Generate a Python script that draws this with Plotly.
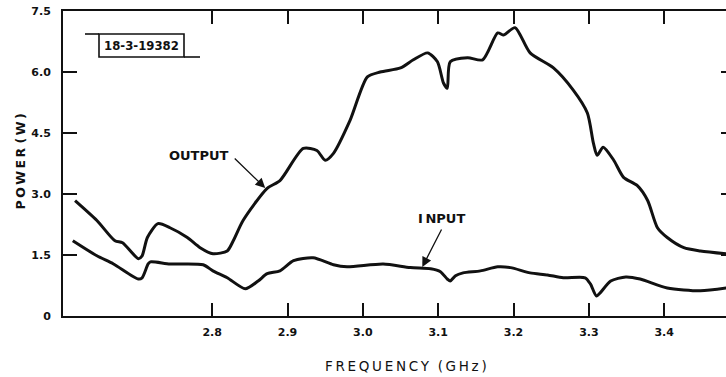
import plotly.graph_objects as go

# ---- data ----
freq_out = [2.618, 2.647, 2.671, 2.681, 2.702, 2.707, 2.714, 2.728, 2.744, 2.767, 2.784,
            2.801, 2.820, 2.828, 2.841, 2.873, 2.890, 2.921, 2.939, 2.950, 2.961, 2.983,
            3.006, 3.023, 3.050, 3.067, 3.086, 3.099, 3.107, 3.112, 3.116, 3.139, 3.159,
            3.179, 3.187, 3.202, 3.222, 3.253, 3.279, 3.298, 3.306, 3.311, 3.319, 3.333,
            3.346, 3.364, 3.378, 3.391, 3.404, 3.426, 3.448, 3.483]
power_out = [2.84, 2.35, 1.85, 1.80, 1.41, 1.48, 1.93, 2.27, 2.17, 1.93, 1.68,
             1.53, 1.60, 1.85, 2.35, 3.14, 3.33, 4.12, 4.07, 3.83, 4.00, 4.81,
             5.88, 6.00, 6.10, 6.30, 6.47, 6.25, 5.73, 5.60, 6.25, 6.35, 6.30,
             6.96, 6.91, 7.09, 6.47, 6.10, 5.56, 4.99, 4.25, 3.95, 4.15, 3.83,
             3.41, 3.21, 2.84, 2.17, 1.93, 1.68, 1.60, 1.53]

freq_in = [2.615, 2.647, 2.669, 2.702, 2.707, 2.715, 2.718, 2.744, 2.788, 2.801, 2.820,
           2.844, 2.861, 2.873, 2.890, 2.908, 2.934, 2.961, 2.979, 3.027, 3.063, 3.090,
           3.103, 3.112, 3.116, 3.123, 3.133, 3.156, 3.179, 3.196, 3.222, 3.245, 3.266,
           3.295, 3.302, 3.310, 3.315, 3.329, 3.349, 3.368, 3.404, 3.448, 3.483]
power_in = [1.85, 1.48, 1.28, 0.91, 0.94, 1.28, 1.33, 1.28, 1.26, 1.11, 0.94,
            0.67, 0.86, 1.04, 1.11, 1.36, 1.43, 1.26, 1.21, 1.28, 1.19, 1.16,
            1.09, 0.91, 0.86, 0.99, 1.06, 1.11, 1.21, 1.19, 1.06, 1.01, 0.94,
            0.94, 0.79, 0.49, 0.57, 0.86, 0.96, 0.91, 0.69, 0.62, 0.69]

x_ticks = [2.8, 2.9, 3.0, 3.1, 3.2, 3.3, 3.4]
x_tick_labels = ["2.8", "2.9", "3.0", "3.1", "3.2", "3.3", "3.4"]
y_ticks = [0, 1.5, 3.0, 4.5, 6.0, 7.5]
y_tick_labels = ["0", "1.5", "3.0", "4.5", "6.0", "7.5"]

X_RANGE = [2.602, 3.482]
Y_RANGE = [0, 7.5]

INK = "#111111"
FONT = "DejaVu Sans, sans-serif"
TS = "\u2009"  # thin space used to imitate the letter-spaced lettering


def spaced(s):
    return TS.join(s)


fig = go.Figure()
line_style = dict(color=INK, width=3, shape="spline", smoothing=0.7)
fig.add_trace(go.Scatter(x=freq_out, y=power_out, mode="lines", line=line_style,
                         name="OUTPUT", showlegend=False, hoverinfo="skip"))
fig.add_trace(go.Scatter(x=freq_in, y=power_in, mode="lines", line=line_style,
                         name="INPUT", showlegend=False, hoverinfo="skip"))
# invisible helper trace so the right-hand tick axis is drawn
fig.add_trace(go.Scatter(x=[None], y=[None], yaxis="y2", showlegend=False, hoverinfo="skip"))

fig.update_layout(
    width=726, height=377,
    margin=dict(l=63, r=0, t=11, b=61),
    paper_bgcolor="white", plot_bgcolor="white",
    font=dict(family=FONT, color=INK, size=11),
    xaxis=dict(range=X_RANGE, tickmode="array", tickvals=x_ticks, ticktext=x_tick_labels,
               ticks="inside", ticklen=13, tickwidth=1.6, tickcolor=INK,
               showline=True, linecolor=INK, linewidth=2, mirror="ticks",
               showgrid=False, zeroline=False, ticklabelstandoff=5,
               tickfont=dict(family=FONT, size=11, color=INK, weight="bold")),
    yaxis=dict(range=Y_RANGE, tickmode="array", tickvals=y_ticks, ticktext=y_tick_labels,
               ticks="inside", ticklen=14, tickwidth=1.6, tickcolor=INK,
               showline=True, linecolor=INK, linewidth=2,
               showgrid=False, zeroline=False, ticklabelstandoff=8,
               tickfont=dict(family=FONT, size=11, color=INK, weight="bold")),
    yaxis2=dict(range=Y_RANGE, overlaying="y", side="right", tickmode="array",
                tickvals=y_ticks, showticklabels=False,
                ticks="inside", ticklen=5, tickwidth=1.6, tickcolor=INK,
                showline=True, linecolor=INK, linewidth=2,
                showgrid=False, zeroline=False),
)


def px_x(p):
    return (p - 63) / 663


def px_y(p):
    return (316 - p) / 305


annotations = [
    dict(text=spaced("FREQUENCY") + "  " + spaced("(GHz)"), xref="paper", yref="paper",
         x=px_x(406), y=px_y(366), showarrow=False,
         font=dict(family=FONT, size=13.5, color=INK), xanchor="center", yanchor="middle"),
    dict(text=spaced("POWER") + " " + spaced("(W)"), xref="paper", yref="paper",
         x=px_x(20.5), y=px_y(162), showarrow=False, textangle=-90,
         font=dict(family=FONT, size=12.5, color=INK, weight="bold"),
         xanchor="center", yanchor="middle"),
    dict(text="18-3-19382", xref="paper", yref="paper",
         x=px_x(141.5), y=px_y(45.5), showarrow=False,
         font=dict(family="DejaVu Sans Condensed, DejaVu Sans", size=13, color=INK,
                   weight="bold"),
         xanchor="center", yanchor="middle"),
    # labels
    dict(text="OUTPUT", xref="paper", yref="paper", x=px_x(198.5), y=px_y(155),
         showarrow=False, font=dict(family=FONT, size=13, color=INK, weight="bold"),
         xanchor="center", yanchor="middle"),
    dict(text="I" + TS + "NPUT", xref="paper", yref="paper", x=px_x(441), y=px_y(218),
         showarrow=False, font=dict(family=FONT, size=13, color=INK, weight="bold"),
         xanchor="center", yanchor="middle"),
    # arrows
    dict(text="", x=2.8704, y=3.147, xref="x", yref="y", ax=-32, ay=-31,
         showarrow=True, arrowhead=2, arrowsize=1.5, arrowwidth=1.3, arrowcolor=INK),
    dict(text="", x=3.0789, y=1.205, xref="x", yref="y", ax=20, ay=-39,
         showarrow=True, arrowhead=2, arrowsize=1.5, arrowwidth=1.3, arrowcolor=INK),
]
fig.update_layout(annotations=annotations)

# figure-number box with its extension lines
fig.update_layout(shapes=[
    dict(type="rect", xref="paper", yref="paper",
         x0=px_x(99), x1=px_x(184), y0=px_y(57), y1=px_y(34),
         line=dict(color=INK, width=1.6)),
    dict(type="line", xref="paper", yref="paper",
         x0=px_x(85), x1=px_x(99), y0=px_y(34), y1=px_y(34),
         line=dict(color=INK, width=1.6)),
    dict(type="line", xref="paper", yref="paper",
         x0=px_x(184), x1=px_x(200), y0=px_y(57), y1=px_y(57),
         line=dict(color=INK, width=1.6)),
])

fig.write_html("out.html", config={"displayModeBar": False},
               post_script="document.body.style.margin='0px';")
